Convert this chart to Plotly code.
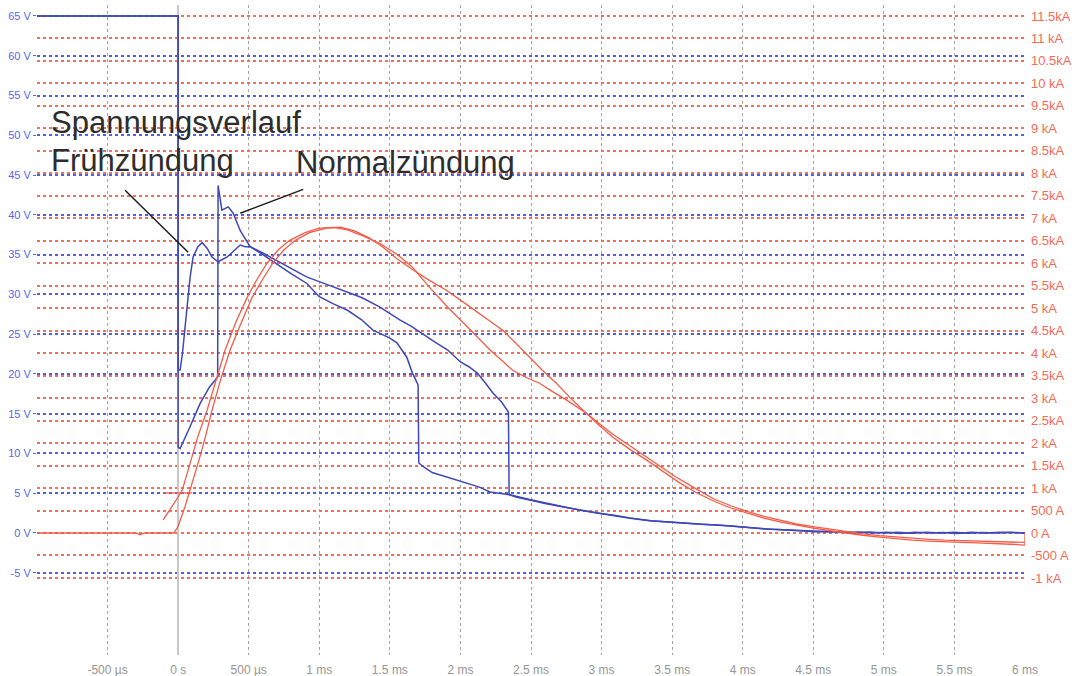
import plotly.graph_objects as go

# --- time base (ms) and axis scaling -------------------------------------
t_range = [-1.0, 6.0]
v_range = [-15.34, 66.38]          # left axis, volts
ka_per_volt = 11.5 / 65.0          # right axis shares zero; 65 V <-> 11.5 kA
i_range = [v * ka_per_volt for v in v_range]

t_ticks = [-0.5, 0.0, 0.5, 1.0, 1.5, 2.0, 2.5, 3.0, 3.5, 4.0, 4.5, 5.0, 5.5, 6.0]
t_labels = ["-500 µs", "0 s", "500 µs", "1 ms", "1.5 ms", "2 ms", "2.5 ms", "3 ms",
            "3.5 ms", "4 ms", "4.5 ms", "5 ms", "5.5 ms", "6 ms"]

v_ticks = [-5, 0, 5, 10, 15, 20, 25, 30, 35, 40, 45, 50, 55, 60, 65]
v_labels = ["-5 V", "0 V", "5 V", "10 V", "15 V", "20 V", "25 V", "30 V", "35 V",
            "40 V", "45 V", "50 V", "55 V", "60 V", "65 V"]

i_ticks = [-1.0, -0.5, 0.0, 0.5, 1.0, 1.5, 2.0, 2.5, 3.0, 3.5, 4.0, 4.5, 5.0, 5.5,
           6.0, 6.5, 7.0, 7.5, 8.0, 8.5, 9.0, 9.5, 10.0, 10.5, 11.0, 11.5]
i_labels = ["-1 kA", "-500 A", "0 A", "500 A", "1 kA", "1.5kA", "2 kA", "2.5kA", "3 kA",
            "3.5kA", "4 kA", "4.5kA", "5 kA", "5.5kA", "6 kA", "6.5kA", "7 kA", "7.5kA",
            "8 kA", "8.5kA", "9 kA", "9.5kA", "10 kA", "10.5kA", "11 kA", "11.5kA"]

# --- voltage, early ignition (V) -----------------------------------------
t_v_frueh = [-1.0, 0.0, 0.0, 0.014, 0.03, 0.05, 0.064, 0.085, 0.106, 0.14, 0.17, 0.205,
             0.24, 0.283, 0.347, 0.40, 0.44, 0.475, 0.51, 0.6, 0.7, 0.8, 0.91, 1.0,
             1.1, 1.2, 1.3, 1.38, 1.43, 1.5, 1.55, 1.62, 1.66, 1.69, 1.70, 1.705,
             1.74, 1.8, 1.91, 2.05, 2.13, 2.21, 2.35, 2.49, 2.6, 2.73, 2.85, 2.97,
             3.1, 3.2, 3.34, 3.45, 3.58, 3.7, 3.82, 3.95, 4.05, 4.17, 4.28, 4.4,
             4.52, 4.62, 4.72, 4.82, 4.92, 5.02, 5.12, 5.22, 5.32, 5.42, 5.52,
             5.62, 5.72, 5.82, 5.92, 6.0]
v_frueh = [65.0, 65.0, 20.5, 20.5, 22.5, 26.0, 28.0, 32.2, 34.7, 36.0, 36.5, 35.8,
           34.7, 34.1, 34.7, 35.6, 36.2, 36.0, 36.0, 35.0, 33.8, 32.6, 31.4, 29.7,
           28.8, 28.0, 26.8, 25.5, 25.1, 24.5, 23.9, 22.1, 20.1, 18.9, 18.6, 8.8,
           8.3, 7.6, 7.0, 6.3, 5.8, 5.15, 4.8, 4.2, 3.75, 3.3, 2.85, 2.5,
           2.2, 1.85, 1.55, 1.4, 1.25, 1.1, 1.0, 0.8, 0.65, 0.5, 0.4, 0.25,
           0.15, 0.2, 0.05, 0.12, 0.0, 0.08, -0.05, 0.1, 0.0, 0.05, -0.05,
           0.08, 0.0, 0.1, 0.0, 0.0]

# --- voltage, normal ignition (V) ----------------------------------------
t_v_normal = [-1.0, 0.0, 0.0, 0.014, 0.08, 0.156, 0.22, 0.28, 0.283, 0.31, 0.355,
              0.39, 0.44, 0.49, 0.51, 0.6, 0.7, 0.8, 0.91, 1.0, 1.15, 1.3, 1.43,
              1.5, 1.57, 1.65, 1.74, 1.82, 1.91, 2.0, 2.06, 2.12, 2.18, 2.23, 2.29,
              2.33, 2.34, 2.345, 2.4, 2.49, 2.6, 2.73, 2.85, 2.97, 3.1, 3.2, 3.35,
              3.53, 3.62, 3.7, 3.8, 3.9, 4.0, 4.1, 4.2, 4.3, 4.4, 4.5, 4.6, 4.7,
              4.8, 4.9, 5.0, 5.1, 5.2, 5.3, 5.4, 5.5, 5.6, 5.7, 5.8, 5.9, 6.0]
v_normal = [65.0, 65.0, 10.8, 10.6, 13.2, 16.3, 18.3, 19.6, 43.7, 40.6, 41.0,
            40.2, 38.0, 36.5, 36.0, 35.2, 34.2, 33.2, 32.2, 31.6, 30.6, 29.6, 28.4,
            27.6, 26.8, 26.0, 24.9, 24.0, 23.0, 21.5, 20.9, 20.1, 18.8, 17.6, 16.5,
            15.5, 15.2, 4.8, 4.5, 4.15, 3.7, 3.27, 2.9, 2.5, 2.2, 1.9, 1.55,
            1.3, 1.2, 1.15, 1.0, 0.9, 0.72, 0.6, 0.48, 0.4, 0.28, 0.18, 0.12, 0.1,
            0.02, 0.12, 0.0, 0.1, -0.02, 0.08, 0.0, 0.1, -0.03, 0.06, 0.0, 0.08, 0.0]

# --- current traces (kA) -------------------------------------------------
t_i_1 = [-1.0, -0.3, -0.27, -0.24, -0.03, 0.0, 0.05, 0.1, 0.142, 0.19, 0.24, 0.3,
         0.368, 0.45, 0.524, 0.6, 0.67, 0.75, 0.83, 0.93, 1.05, 1.15, 1.25, 1.35,
         1.45, 1.55, 1.66, 1.78, 1.9, 2.0, 2.13, 2.22, 2.3, 2.4, 2.49, 2.58, 2.68,
         2.78, 2.89, 2.98, 3.08, 3.2, 3.32, 3.43, 3.55, 3.67, 3.8, 3.92, 4.03, 4.15,
         4.27, 4.38, 4.5, 4.62, 4.73, 4.85, 4.97, 5.08, 5.2, 5.32, 5.43, 5.55, 5.66,
         5.78, 5.9, 6.0, 6.0]
i_1 = [0.0, 0.0, -0.04, 0.0, 0.0, 0.15, 0.6, 1.1, 1.56, 2.1, 2.73, 3.4,
       4.07, 4.7, 5.24, 5.65, 6.0, 6.3, 6.51, 6.68, 6.78, 6.8, 6.72, 6.57,
       6.36, 6.1, 5.86, 5.62, 5.4, 5.18, 4.89, 4.7, 4.51, 4.2, 3.91, 3.62, 3.33,
       3.0, 2.67, 2.4, 2.13, 1.86, 1.62, 1.38, 1.12, 0.9, 0.7, 0.55, 0.44, 0.33,
       0.24, 0.17, 0.11, 0.05, 0.0, -0.05, -0.09, -0.13, -0.16, -0.18, -0.2, -0.21,
       -0.22, -0.23, -0.25, -0.27, 0.0]

t_i_2 = [-0.106, -0.05, 0.0, 0.03, 0.085, 0.14, 0.205, 0.27, 0.333, 0.41, 0.489,
         0.56, 0.63, 0.71, 0.79, 0.9, 1.0, 1.1, 1.2, 1.3, 1.43, 1.55, 1.66, 1.78,
         1.91, 2.05, 2.21, 2.3, 2.37, 2.46, 2.56, 2.65, 2.75, 2.89, 3.07, 3.2, 3.32,
         3.43, 3.53, 3.67, 3.8, 3.92, 4.03, 4.15, 4.27, 4.38, 4.5, 4.62, 4.73, 4.85,
         4.97, 5.08, 5.2, 5.32, 5.43, 5.55, 5.66, 5.78, 5.9, 6.0]
i_2 = [0.29, 0.55, 0.8, 0.96, 1.56, 2.15, 2.73, 3.42, 4.07, 4.7, 5.24,
       5.65, 6.0, 6.3, 6.51, 6.68, 6.78, 6.8, 6.74, 6.62, 6.44, 6.2, 5.91, 5.47,
       5.02, 4.58, 4.07, 3.82, 3.62, 3.47, 3.33, 3.15, 2.96, 2.67, 2.22, 1.94, 1.69,
       1.46, 1.24, 0.98, 0.75, 0.6, 0.48, 0.37, 0.28, 0.2, 0.14, 0.08, 0.03, -0.02,
       -0.06, -0.09, -0.12, -0.14, -0.16, -0.17, -0.19, -0.2, -0.21, -0.21]

# trigger level marker on the current channel
t_trigger = [-0.106, 0.10]
i_trigger = [0.89, 0.89]

# --- colours -------------------------------------------------------------
blue_trace = "rgb(62,72,185)"
red_trace = "rgb(244,92,72)"
blue_grid = "rgb(80,95,235)"
red_grid = "rgb(246,110,90)"
blue_text = "rgb(85,105,240)"
red_text = "rgb(248,105,85)"
gray_grid = "rgb(165,165,165)"
font_family = "Liberation Sans, Arial, sans-serif"
label_font = dict(family=font_family, size=31, color="rgb(45,45,45)")

fig = go.Figure()

for tt, ii in [(t_i_1, i_1), (t_i_2, i_2), (t_trigger, i_trigger)]:
    fig.add_trace(go.Scatter(x=tt, y=ii, yaxis="y2", mode="lines",
                             line=dict(color=red_trace, width=1.3),
                             hoverinfo="skip", showlegend=False))

for tt, vv in [(t_v_frueh, v_frueh), (t_v_normal, v_normal)]:
    fig.add_trace(go.Scatter(x=tt, y=vv, yaxis="y", mode="lines",
                             line=dict(color=blue_trace, width=1.5),
                             hoverinfo="skip", showlegend=False))

# labels with leader lines
fig.add_annotation(x=-0.915, y=51.6, xref="x", yref="y", text="Spannungsverlauf",
                   showarrow=False, xanchor="left", yanchor="middle", font=label_font)
fig.add_annotation(x=-0.915, y=46.8, xref="x", yref="y", text="Frühzündung",
                   showarrow=False, xanchor="left", yanchor="middle", font=label_font)
fig.add_annotation(x=0.821, y=46.6, xref="x", yref="y", text="Normalzündung",
                   showarrow=False, xanchor="left", yanchor="middle", font=label_font)
fig.add_shape(type="line", xref="x", yref="y", x0=-0.376, y0=43.1, x1=0.071, y1=35.3,
              line=dict(color="rgb(30,30,30)", width=1.5))
fig.add_shape(type="line", xref="x", yref="y", x0=0.886, y0=43.2, x1=0.44, y1=40.2,
              line=dict(color="rgb(30,30,30)", width=1.5))

fig.update_layout(
    width=1081, height=676,
    margin=dict(l=37, r=56, t=5, b=21),
    paper_bgcolor="white", plot_bgcolor="white",
    showlegend=False,
    xaxis=dict(range=t_range, tickvals=t_ticks, ticktext=t_labels, automargin=False,
               showgrid=True, gridcolor=gray_grid, griddash="dot", gridwidth=1,
               zeroline=True, zerolinecolor="rgb(200,200,200)", zerolinewidth=2,
               showline=False, ticks="", ticklabelstandoff=6,
               tickfont=dict(family=font_family, size=12, color="rgb(150,150,150)")),
    yaxis=dict(range=v_range, tickvals=v_ticks, ticktext=v_labels, automargin=False,
               showgrid=True, gridcolor=blue_grid, griddash="dot", gridwidth=1.5,
               zeroline=False, showline=False,
               ticks="outside", ticklen=3, tickcolor=blue_text,
               tickfont=dict(family=font_family, size=11, color=blue_text)),
    yaxis2=dict(range=i_range, tickvals=i_ticks, ticktext=i_labels, automargin=False,
                overlaying="y", side="right",
                showgrid=True, gridcolor=red_grid, griddash="dot", gridwidth=1.5,
                zeroline=False, showline=False, ticks="", ticklabelstandoff=5,
                tickfont=dict(family=font_family, size=13, color=red_text)),
)

fig.write_html("out.html")
